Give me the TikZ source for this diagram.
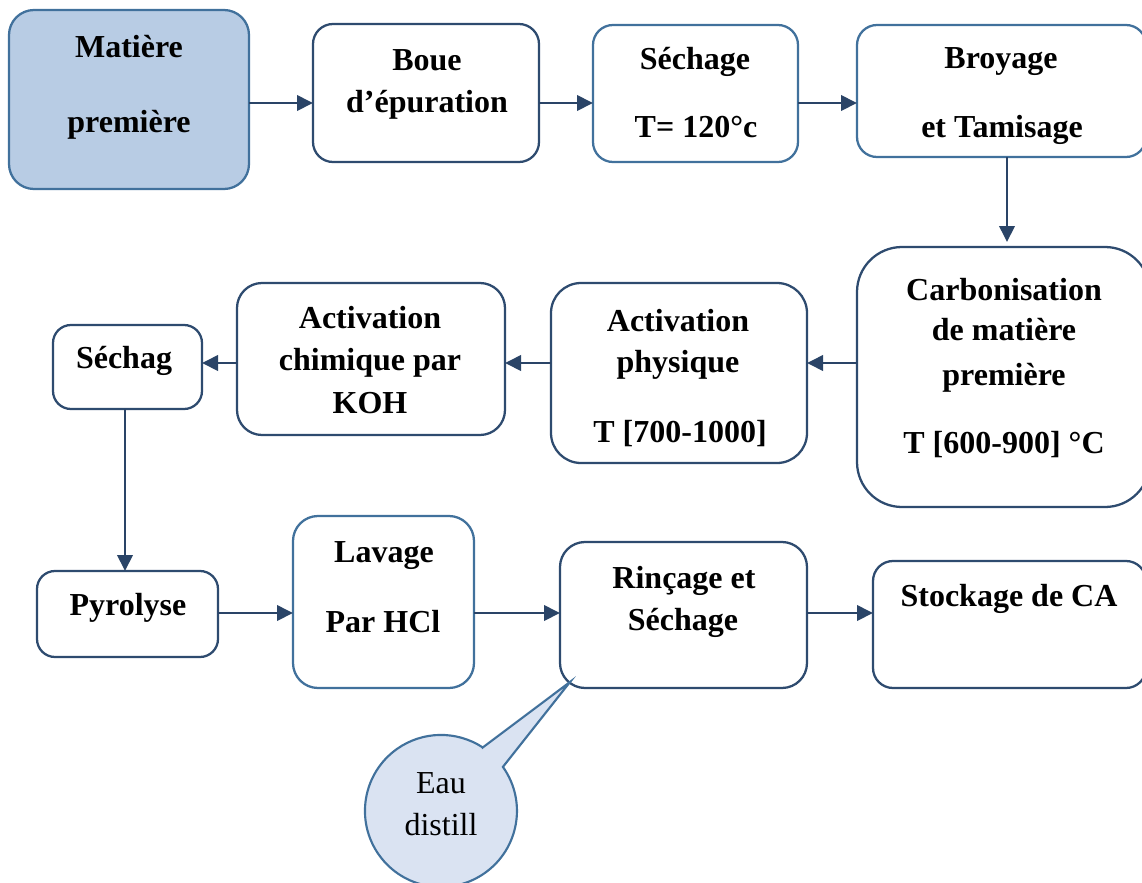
\documentclass[tikz,border=0pt]{standalone}
\usepackage{fontspec}
\setmainfont{Liberation Serif}
\usetikzlibrary{arrows.meta}
\definecolor{matfill}{HTML}{B8CCE4}
\definecolor{eaufill}{HTML}{DAE3F2}
\definecolor{lightb}{HTML}{41719C}
\definecolor{darkb}{HTML}{2E4B6F}
\definecolor{arrc}{HTML}{2A4467}
\begin{document}
\begin{tikzpicture}[x=0.75pt,y=-0.75pt,
  bx/.style={draw=darkb, line width=1.7pt, inner sep=0pt, outer sep=0pt, rectangle, fill=white},
  lbx/.style={bx, draw=lightb},
  txt/.style={anchor=base, inner sep=0pt, font=\fontsize{24}{28}\selectfont\bfseries},
  rtxt/.style={anchor=base, inner sep=0pt, font=\fontsize{24}{28}\selectfont},
  arr/.style={draw=arrc, line width=2pt, -{Triangle[length=12pt,width=11.5pt]}}]
\useasboundingbox (0,0) rectangle (1142,882);
\clip (0,0) rectangle (1142,882);

% boxes
\node[lbx, fill=matfill, minimum width=180pt, minimum height=134.25pt, rounded corners=18.75pt] (mat) at (129,99.5) {};
\node[bx, minimum width=169.5pt, minimum height=103.5pt, rounded corners=15pt] (boue) at (426,93) {};
\node[lbx, minimum width=153.75pt, minimum height=102.75pt, rounded corners=15pt] (sech1) at (695.5,93.5) {};
\node[lbx, minimum width=216.75pt, minimum height=99pt, rounded corners=15pt] (broy) at (1001.5,91) {};
\node[bx, minimum width=219.75pt, minimum height=195pt, rounded corners=33.75pt] (carb) at (1003.5,377) {};
\node[bx, minimum width=192pt, minimum height=135pt, rounded corners=22.5pt] (phys) at (679,373) {};
\node[bx, minimum width=201pt, minimum height=114pt, rounded corners=18.75pt] (koh) at (371,359) {};
\node[bx, minimum width=111.75pt, minimum height=63pt, rounded corners=13.5pt] (sechag) at (127.5,367) {};
\node[bx, minimum width=135.75pt, minimum height=64.5pt, rounded corners=13.5pt] (pyro) at (127.5,614) {};
\node[lbx, minimum width=135.75pt, minimum height=129pt, rounded corners=18.75pt] (lav) at (383.5,602) {};
\node[bx, minimum width=185.25pt, minimum height=109.5pt, rounded corners=18.75pt] (rinc) at (683.5,615) {};
\node[bx, minimum width=204.75pt, minimum height=95.25pt, rounded corners=15pt] (stock) at (1009.5,624.5) {};

% callout
\draw[draw=lightb, fill=eaufill, line width=1.6pt, line join=miter]
  (482.7,747.5) -- (570,682) -- (502.9,766.9)
  arc[start angle=-35.4, end angle=303.3, radius=76] -- cycle;

% texts
\node[txt] (t1a) at (129,57) {Matière};
\node[txt] (t1b) at (129,132) {première};
\node[txt] (t2a) at (427,70) {Boue};
\node[txt] (t2b) at (427,112) {d’épuration};
\node[txt] (t3a) at (695,69) {Séchage};
\node[txt] (t3b) at (696,137) {T= 120°c};
\node[txt] (t4a) at (1001,68) {Broyage};
\node[txt] (t4b) at (1002,137) {et Tamisage};
\node[txt] (t5a) at (1004,300) {Carbonisation};
\node[txt] (t5b) at (1004,340) {de matière};
\node[txt] (t5c) at (1004,385) {première};
\node[txt] (t5d) at (1004,453) {T [600-900] °C};
\node[txt] (t6a) at (678,331) {Activation};
\node[txt] (t6b) at (678,372) {physique};
\node[txt] (t6c) at (680,442) {T [700-1000]};
\node[txt] (t7a) at (370,328) {Activation};
\node[txt] (t7b) at (370,370) {chimique par};
\node[txt] (t7c) at (370,413) {KOH};
\node[txt] (t8) at (124,368) {Séchag};
\node[txt] (t9) at (128,615) {Pyrolyse};
\node[txt] (t10a) at (384,562) {Lavage};
\node[txt] (t10b) at (383,632) {Par HCl};
\node[txt] (t11a) at (684,588) {Rinçage et};
\node[txt] (t11b) at (683,630) {Séchage};
\node[txt] (t12) at (1009,606) {Stockage de CA};
\node[rtxt] (t13a) at (441,793) {Eau};
\node[rtxt] (t13b) at (441,835) {distill};

% connectors
\coordinate (r1) at (0,103);
\coordinate (r2) at (0,363);
\coordinate (r3) at (0,613);
\coordinate (c1) at (1007,0);
\coordinate (c2) at (125,0);
\draw[arr] (mat.east|-r1) -- (boue.west|-r1);
\draw[arr] (boue.east|-r1) -- (sech1.west|-r1);
\draw[arr] (sech1.east|-r1) -- (broy.west|-r1);
\draw[arr, shorten >=3.75pt] (broy.south-|c1) -- (carb.north-|c1);
\draw[arr] (carb.west|-r2) -- (phys.east|-r2);
\draw[arr] (phys.west|-r2) -- (koh.east|-r2);
\draw[arr] (koh.west|-r2) -- (sechag.east|-r2);
\draw[arr] (sechag.south-|c2) -- (pyro.north-|c2);
\draw[arr] (pyro.east|-r3) -- (lav.west|-r3);
\draw[arr] (lav.east|-r3) -- (rinc.west|-r3);
\draw[arr] (rinc.east|-r3) -- (stock.west|-r3);
\end{tikzpicture}
\end{document}
